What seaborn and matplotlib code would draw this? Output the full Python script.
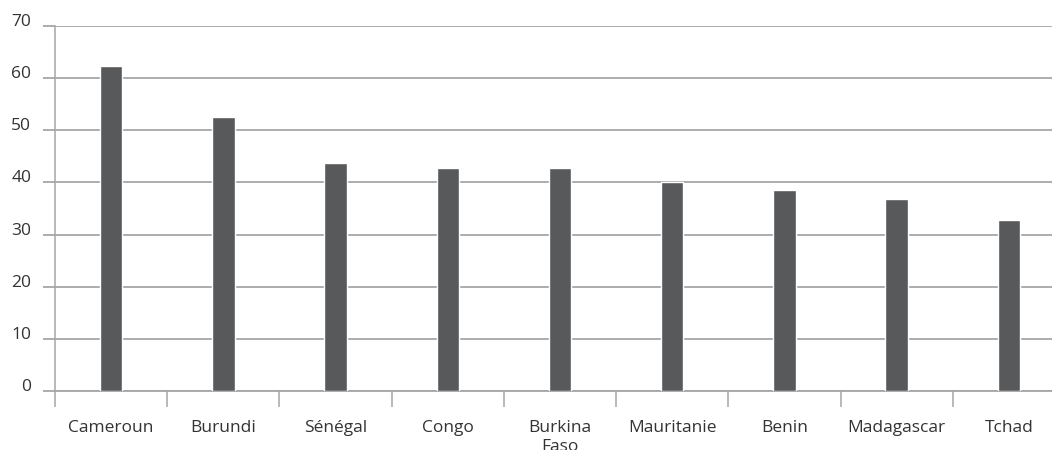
import pandas as pd
import matplotlib
matplotlib.use("Agg")
import matplotlib.pyplot as plt
import seaborn as sns

# Data
pays = ["Cameroun", "Burundi", "Sénégal", "Congo", "Burkina\nFaso",
        "Mauritanie", "Benin", "Madagascar", "Tchad"]
valeurs = [62.4, 52.6, 43.8, 42.7, 42.7, 40.0, 38.5, 36.9, 32.7]
yticks = [0, 10, 20, 30, 40, 50, 60, 70]

BAR = "#58595b"
GRID = "#a6a6a6"
TEXT = "#333333"

sns.set_theme(style="white")
plt.rcParams["font.family"] = ["Open Sans", "DejaVu Sans"]

df = pd.DataFrame({"pays": pays, "valeur": valeurs})

W, H = 1052, 450
fig = plt.figure(figsize=(W / 100, H / 100), dpi=100)
ax = fig.add_axes([55 / W, (H - 391) / H, (1065 - 55) / W, (391 - 26) / H])

sns.barplot(data=df, x="pays", y="valeur", color=BAR, width=0.2,
            saturation=1, ax=ax, zorder=3)

ax.set_xlim(-0.5, len(pays) - 0.5)
ax.set_ylim(0, 70)
ax.set_yticks(yticks)
ax.set_xlabel("")
ax.set_ylabel("")

# gridlines
ax.grid(axis="y", color=GRID, linewidth=1.3, zorder=0)
ax.set_axisbelow(True)

for side in ["top", "right"]:
    ax.spines[side].set_visible(False)
ax.spines["left"].set_color(GRID)
ax.spines["left"].set_linewidth(1.1)
ax.spines["bottom"].set_color(GRID)
ax.spines["bottom"].set_linewidth(1.3)

# y ticks extend left of the axis like the gridlines; labels sit on the line
ax.tick_params(axis="y", which="major", left=True, length=8.6, width=1.3,
               color=GRID, pad=8.5, labelsize=12.5, labelcolor=TEXT)
for lab in ax.get_yticklabels():
    lab.set_verticalalignment("baseline")

# x: labels at category centres, tick marks at category boundaries
ax.tick_params(axis="x", which="major", bottom=True, length=0, pad=21,
               labelsize=12.5, labelcolor=TEXT)
ax.set_xticks([i - 0.5 for i in range(len(pays))], minor=True)
ax.tick_params(axis="x", which="minor", bottom=True, length=11.5, width=1.1,
               color=GRID)
for lab in ax.get_xticklabels():
    lab.set_verticalalignment("top")
    lab.set_linespacing(1.2)

fig.savefig("out.png", dpi=100)
plt.close(fig)
